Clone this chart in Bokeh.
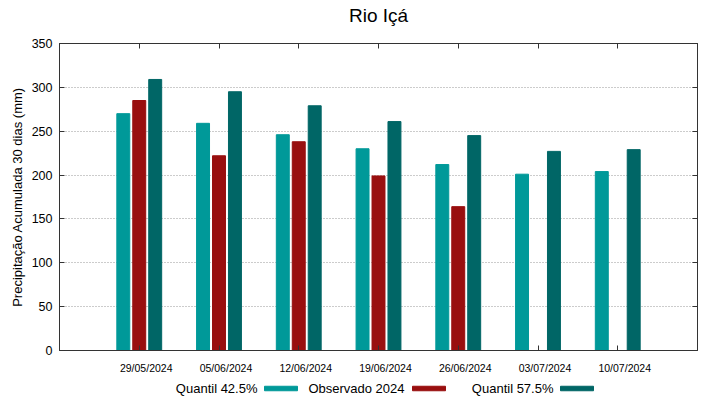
import numpy as np
from bokeh.plotting import figure
from bokeh.models import Range1d, FixedTicker, LinearAxis
from bokeh.layouts import column
from bokeh.core.properties import value
from bokeh.embed import file_html
from bokeh.resources import INLINE

# ---- data ----
title_text = "Rio Içá"
dates = ["29/05/2024", "05/06/2024", "12/06/2024", "19/06/2024",
         "26/06/2024", "03/07/2024", "10/07/2024"]
quantil_425 = [270, 259, 246, 230, 212, 201, 204]
observado_2024 = [285, 222, 238, 199, 164]
quantil_575 = [309, 295, 279, 261, 245, 227, 229]
y_ticks = [0, 50, 100, 150, 200, 250, 300, 350]

series_names = ["Quantil 42.5%", "Observado 2024", "Quantil 57.5%"]
series_colors = ["#009999", "#990f0f", "#006666"]

FONT = "Liberation Sans"

n = len(dates)
idx = np.arange(n)
obs_idx = np.arange(len(observado_2024))

# ---- title row ----
tfig = figure(frame_width=638, frame_height=28, x_range=Range1d(59, 697), y_range=Range1d(0, 28),
              output_backend="svg", toolbar_location=None,
              min_border_left=59, min_border_right=14, min_border_top=0, min_border_bottom=0)
tfig.axis.visible = False
tfig.grid.visible = False
tfig.outline_line_color = None
tfig.text(x=[378], y=[13], text=[title_text], text_align="center",
          text_baseline="middle", text_font=value(FONT), text_font_size="19px",
          text_color="black")

# ---- main chart ----
p = figure(frame_width=638, frame_height=307, x_range=Range1d(-1, 7), y_range=Range1d(0, 350),
           output_backend="svg", toolbar_location=None,
           min_border_left=59, min_border_right=14, min_border_top=15,
           min_border_bottom=30)

bw = 0.1625
off = 0.2
p.vbar(x=idx - off, top=quantil_425, width=bw, color=series_colors[0])
p.vbar(x=obs_idx, top=observado_2024, width=bw, color=series_colors[1])
p.vbar(x=idx + off, top=quantil_575, width=bw, color=series_colors[2])

p.outline_line_color = "#333333"
p.outline_line_width = 1

# x axis: minor ticks at group centers, labels slightly offset (as in reference)
xa = p.xaxis[0]
label_shift = 0.0875
xa.ticker = FixedTicker(ticks=list(idx + label_shift), minor_ticks=list(idx))
xa.major_label_overrides = {float(i + label_shift): d for i, d in zip(idx, dates)}
xa.major_tick_in = 0
xa.major_tick_out = 0
xa.minor_tick_in = 5
xa.minor_tick_out = 0
xa.minor_tick_line_color = "#333333"
xa.axis_line_color = "#333333"
xa.major_label_text_font = FONT
xa.major_label_text_font_size = "10.5px"
xa.major_label_text_color = "black"
xa.major_label_standoff = 11

# top axis: mirrored inward ticks only
ta = LinearAxis(ticker=FixedTicker(ticks=[], minor_ticks=list(idx)))
ta.major_tick_line_color = None
ta.minor_tick_in = 5
ta.minor_tick_out = 0
ta.minor_tick_line_color = "#333333"
ta.axis_line_color = "#333333"
ta.major_label_standoff = 0
p.add_layout(ta, "above")

# y axis
ya = p.yaxis[0]
ya.ticker = FixedTicker(ticks=y_ticks)
ya.major_tick_in = 5
ya.major_tick_out = 0
ya.minor_tick_line_color = None
ya.major_tick_line_color = "#333333"
ya.axis_line_color = "#333333"
ya.major_label_text_font = FONT
ya.major_label_text_font_size = "12.5px"
ya.major_label_text_color = "black"
ya.major_label_standoff = 7
ya.axis_label = "Precipitação Acumulada 30 dias (mm)"
ya.axis_label_text_font = FONT
ya.axis_label_text_font_size = "13px"
ya.axis_label_text_font_style = "normal"
ya.axis_label_text_color = "black"
ya.axis_label_standoff = 4

# right axis with inward ticks only (minor ticks -> no labels)
ra = LinearAxis(ticker=FixedTicker(ticks=[], minor_ticks=y_ticks))
ra.major_tick_line_color = None
ra.minor_tick_in = 5
ra.minor_tick_out = 0
ra.minor_tick_line_color = "#333333"
ra.axis_line_color = "#333333"
ra.major_label_standoff = 0
p.add_layout(ra, "right")

p.xgrid.grid_line_color = None
p.ygrid.ticker = FixedTicker(ticks=y_ticks[1:-1])
p.ygrid.grid_line_color = "#999999"
p.ygrid.grid_line_dash = "1 2"
p.ygrid.grid_line_width = 1

# ---- legend row (label followed by swatch, as in reference) ----
leg = figure(frame_width=638, frame_height=16, x_range=Range1d(59, 697), y_range=Range1d(0, 16),
             output_backend="svg", toolbar_location=None,
             min_border_left=59, min_border_right=14, min_border_top=0, min_border_bottom=0)
leg.axis.visible = False
leg.grid.visible = False
leg.outline_line_color = None

label_right = [257, 404, 553]
swatch_center = [280.5, 428.5, 576.5]
leg.text(x=label_right, y=[8] * 3, text=series_names, text_align="right",
         text_baseline="middle", text_font=value(FONT), text_font_size="13px",
         text_color="black")
leg.rect(x=swatch_center, y=[8] * 3, width=33, height=4.5, color=series_colors)

layout = column(tfig, p, leg, spacing=0)
open("out.html", "w").write(file_html(layout, INLINE))
